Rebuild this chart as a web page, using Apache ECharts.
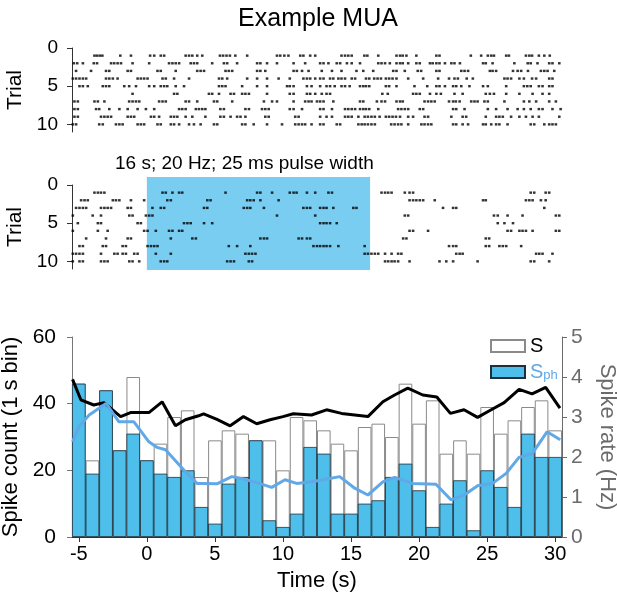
<!DOCTYPE html>
<html>
<head>
<meta charset="utf-8">
<title>Example MUA</title>
<script src="https://cdn.jsdelivr.net/npm/echarts@6/dist/echarts.min.js"></script>
<style>
  html, body { margin: 0; padding: 0; background: #fff; }
  #chart01 { width: 617px; height: 595px; }
</style>
</head>
<body>
<div id="chart01"></div>
<script>
// spike times (s) per trial, top raster (baseline)
var raster1 = [
  [-3.85,-3.66,-3.46,-3.27,-1.95,-1.17,0.24,0.54,1.02,1.27,2.85,3.1,3.34,3.7,4.07,5.37,5.6,5.85,6.1,6.5,7.37,9.56,9.8,10.1,10.4,11.27,11.5,12.0,12.37,14.3,14.56,14.8,15.05,15.98,16.2,17.0,18.34,18.6,18.8,19.07,19.8,21.27,21.5,23.8,24.56,25.05,25.3,25.5,26.4,26.6,27.85,28.1,28.3,28.8,29.2,29.6],
  [-5.37,-5.12,-4.7,-3.9,-3.66,-2.63,-2.4,-2.15,-1.9,-1.05,0.17,1.63,1.88,2.12,2.37,3.22,3.46,3.7,4.8,5.66,5.9,6.63,8.1,8.34,8.83,9.56,10.78,11.63,12.73,12.98,13.34,13.95,14.2,14.7,15.05,15.66,17.0,17.24,17.5,17.85,18.34,18.6,18.8,19.2,19.8,20.05,20.8,21.0,21.27,21.5,21.9,22.37,22.6,23.0,24.7,24.9,25.4,27.0,27.98,28.2,28.7,29.56,29.8,30.3],
  [-5.2,-4.1,-3.0,-2.76,-1.41,-1.17,0.78,1.02,2.12,3.7,3.95,4.2,5.78,6.02,6.27,8.1,8.34,8.7,10.78,11.02,11.4,11.88,12.85,13.6,14.3,15.4,15.9,16.63,18.1,18.34,18.95,19.9,20.15,21.27,21.5,23.1,23.34,23.6,25.2,25.4,25.66,26.9,27.24,27.5,28.0,28.95,29.2,29.44,29.93],
  [-5.44,-5.2,-4.95,-4.7,-4.46,-3.0,-2.76,-2.5,-2.15,-0.68,-0.44,-0.2,0.05,1.15,1.39,2.0,3.1,5.3,5.54,5.9,7.37,8.1,8.83,9.68,10.5,11.5,11.76,12.0,12.37,12.73,12.98,13.46,13.7,14.07,14.3,14.56,15.05,15.3,16.1,16.34,16.7,16.95,17.2,17.56,17.8,18.05,18.34,19.2,20.3,21.4,22.2,22.6,22.85,23.5,23.95,26.27,26.5,26.76,27.37,27.7,28.3,28.6,29.56,29.8],
  [-4.95,-4.7,-4.34,-3.24,-3.0,-2.76,-1.66,-1.3,-0.8,0.17,0.54,1.02,1.27,1.5,2.12,2.73,5.3,5.54,5.78,7.0,8.1,8.83,10.3,10.5,10.78,11.76,12.1,12.73,13.2,13.46,13.8,14.3,14.56,14.9,15.66,15.9,16.1,16.34,17.56,17.8,18.34,19.66,20.6,21.27,21.5,21.9,22.5,22.73,23.1,23.7,24.7,25.05,26.4,27.7,27.95,28.2,28.8,29.07,29.56,29.8],
  [-1.05,2.0,2.24,4.56,4.8,5.3,6.15,6.4,7.0,7.24,7.5,8.83,10.5,10.78,11.76,12.0,12.37,12.85,13.2,13.46,17.3,17.7,19.56,19.8,20.05,20.8,21.27,21.6,22.6,23.2,24.9,25.2,25.5,26.4,27.37,28.34,29.07,29.56],
  [-5.32,-5.07,-3.85,-3.6,-3.12,-1.3,-1.05,-0.8,-0.56,0.9,1.15,1.39,2.85,3.1,3.7,4.93,5.17,6.27,8.6,9.2,9.56,10.78,11.63,11.88,12.1,12.5,12.73,12.98,13.7,15.66,15.9,16.9,17.24,17.5,18.34,18.6,18.8,20.4,20.66,20.9,21.15,22.2,22.5,22.7,22.98,23.83,24.07,24.3,24.8,25.05,26.27,27.7,28.1,28.6,29.56,30.05],
  [-5.32,-5.07,-3.73,-3.5,-2.76,-2.02,-1.41,-0.68,-0.07,0.54,2.37,2.6,2.85,3.6,3.83,4.07,4.3,5.4,5.66,7.24,7.5,8.46,8.7,8.95,10.5,10.78,11.4,12.73,12.98,13.6,14.56,14.8,15.05,15.3,15.66,15.9,16.1,16.34,17.0,18.46,18.7,18.95,19.2,20.05,20.3,22.5,22.73,23.34,25.05,25.66,26.5,27.24,27.7,28.2,28.8,29.07,29.8,30.4],
  [-5.32,-5.07,-3.37,-3.12,-2.88,-2.63,-1.41,-1.17,-0.93,0.3,0.54,0.9,1.76,2.0,2.24,2.85,3.34,4.3,5.4,5.66,6.15,6.63,6.88,7.24,8.7,8.95,10.9,11.15,12.73,13.2,13.6,14.56,14.8,15.05,15.54,16.0,16.24,16.5,16.75,17.1,17.56,17.8,18.05,18.3,18.6,19.2,19.56,20.4,20.66,22.37,23.2,23.46,24.9,25.66,25.9,26.15,26.76,27.37,27.85,28.34,28.8,30.3],
  [-5.44,-5.2,-3.5,-3.24,-2.27,-2.02,-1.78,-0.68,-0.44,-0.2,0.78,1.02,1.76,2.0,2.37,3.1,3.46,3.95,4.93,5.17,7.0,7.24,7.85,8.83,9.93,10.9,11.15,11.4,11.63,12.1,12.73,12.98,13.95,14.2,15.54,15.78,16.0,16.24,16.5,16.75,17.95,18.2,18.46,18.7,19.2,20.17,20.4,20.66,20.9,22.5,22.73,23.2,23.6,24.7,24.9,25.3,25.66,25.9,26.5,28.2,28.46,29.2,29.56,29.8,30.05]
];

// spike times (s) per trial, stimulated raster
var raster2 = [
  [-3.85,-3.6,-3.37,-3.12,1.15,1.39,1.88,2.37,2.6,5.78,8.1,8.34,9.2,10.5,10.78,11.0,11.76,12.37,13.34,13.6,17.24,17.5,17.73,17.98,18.95,19.3,19.56,28.2,28.46,29.3,29.56],
  [-4.83,-4.58,-4.34,-2.5,-2.27,-2.02,-1.17,-0.2,1.5,1.76,4.44,4.68,7.37,7.6,7.85,8.34,9.68,19.3,19.56,19.8,20.05,20.3,21.15,24.7,24.9,27.85,28.1,28.34,28.95,29.3],
  [-5.2,-4.95,-4.7,-4.46,-3.37,-3.12,-2.88,-2.63,-1.41,-1.17,0.41,1.02,1.27,4.2,4.44,7.12,7.37,7.6,8.6,11.5,11.76,12.0,12.73,12.98,13.2,13.7,15.17,15.4,21.76,22.5,22.73,29.2],
  [-5.44,-3.98,-3.37,-1.29,-1.05,-0.07,0.17,0.41,9.56,12.37,18.95,19.2,25.5,25.78,26.5,27.6,30.05,30.3],
  [-5.07,-3.6,-3.37,-0.68,-0.44,2.73,2.98,3.22,4.2,4.8,12.73,12.98,13.2,13.46,13.95,25.78,26.27,26.9],
  [-5.44,-3.6,-2.88,-0.2,0.05,0.66,1.63,1.88,2.37,2.6,19.3,19.56,20.66,26.5,26.76,27.37,27.6,27.85,28.34,30.05,30.3],
  [-4.46,-3.0,-1.41,-1.17,1.76,3.34,3.6,8.34,8.6,8.83,11.15,11.4,11.76,12.0,18.83,19.07,24.9,25.15],
  [-4.95,-4.7,-3.24,-3.0,-1.78,-1.54,0.05,0.3,0.54,0.78,6.02,6.63,7.6,12.24,12.5,12.73,12.98,13.2,13.46,14.07,16.0,22.2,22.5,22.73,24.9,25.15,25.9,26.15,26.4,27.5],
  [-5.44,-5.2,-4.95,-4.7,-3.37,-2.39,-2.15,-1.78,-1.54,-0.93,-0.68,0.66,1.76,7.24,7.49,7.73,7.98,16.0,16.24,16.5,16.75,17.0,17.5,17.98,18.46,18.7,22.73,22.98,23.2,28.6,28.83,29.07,29.8],
  [-5.44,-4.95,-4.7,-3.37,-3.12,-2.88,-1.29,-1.05,-0.56,1.02,1.27,1.5,5.9,6.15,6.4,7.49,7.73,17.5,17.73,17.98,18.2,18.46,19.3,21.5,22.0,22.5,24.3,28.2,28.46,29.56]
];

var stimWindow = [0, 16.4]; // s

// 1 s bins
var timeBins = [];
for (var t = -5; t <= 30; t++) timeBins.push(String(t));
var countS   = [46,23,44,26,48,23,28,36,38,18,29,32,31,29,29,20,36,35,32,28,26,33,34,30,46,34,41,25,29,25,39,31,35,39,41,32];
var countSph = [46,19,44,26,31,23,19,18,20,9,4,16,18,29,5,3,7,27,25,7,7,10,11,18,22,14,3,10,17,2,20,15,9,31,24,24];

// spike rate (Hz) [time, rate]
var rateS = [[-5.46,3.94],[-4.85,3.43],[-3.9,3.3],[-3.15,3.36],[-1.93,3.01],[-1.2,3.11],[0.15,3.11],[1.12,3.38],[2.1,2.78],[2.83,2.93],[3.8,3.03],[4.17,3.08],[5.15,2.94],[6.12,2.78],[7.1,3.01],[8.07,2.83],[9.05,2.93],[10.0,3.01],[10.76,3.08],[12.1,3.05],[13.2,3.18],[14.3,3.09],[16.24,3.01],[17.34,3.38],[18.2,3.55],[19.17,3.72],[20.27,3.55],[21.3,3.5],[22.3,3.09],[23.3,3.18],[24.3,2.99],[25.3,3.18],[26.25,3.36],[27.35,3.69],[28.3,3.58],[29.3,3.74],[30.35,3.22]];
var rateSph = [[-5.46,2.38],[-4.98,2.76],[-4.24,3.05],[-3.0,3.34],[-2.05,2.88],[-0.95,2.88],[0.15,2.38],[0.76,2.24],[1.37,2.18],[2.7,1.68],[3.68,1.34],[4.17,1.34],[5.15,1.33],[6.24,1.51],[7.1,1.45],[8.07,1.36],[9.17,1.24],[10.15,1.43],[11.0,1.34],[12.1,1.38],[12.95,1.43],[14.17,1.51],[15.27,1.22],[16.24,1.05],[17.34,1.38],[18.2,1.49],[19.5,1.34],[21.24,1.32],[22.34,0.93],[23.32,1.05],[24.3,1.28],[25.4,1.34],[26.4,1.59],[27.34,1.99],[28.3,2.08],[29.4,2.63],[30.37,2.43]];

function toPoints(trials) {
  var pts = [];
  trials.forEach(function (row, i) {
    row.forEach(function (s) { pts.push([s, i + 1]); });
  });
  return pts;
}

var font = "'Liberation Sans', Arial, sans-serif";
var blueFill = '#4dbfea';
var blueLine = '#60a8e8';
var grey = '#6b6b6b';

function rasterY(grid) {
  return {
    gridIndex: grid, type: 'value', min: 0, max: 11, inverse: true,
    name: 'Trial', nameLocation: 'middle', nameGap: 44, nameRotate: 90,
    nameTextStyle: { fontSize: 21, color: '#000', fontFamily: font },
    axisLine: { show: true, onZero: false, lineStyle: { color: '#333', width: 1 } },
    axisTick: { show: true, length: 5, customValues: [0, 5, 10], lineStyle: { color: '#333' } },
    axisLabel: { customValues: [0, 5, 10], fontSize: 19, color: '#000', margin: 14, fontFamily: font },
    splitLine: { show: false }
  };
}
function hiddenX(grid) {
  return { gridIndex: grid, type: 'value', min: -5.5, max: 30.5, show: false };
}
function gridAt(top, height) {
  return { left: 72, right: 55, top: top, height: height, outerBoundsMode: 'none', containLabel: false };
}

var myChart01 = echarts.init(document.getElementById('chart01'));
var option = {
  animation: false,
  backgroundColor: '#fff',
  textStyle: { fontFamily: font },
  title: [
    { text: 'Example MUA', left: 313, top: 2, textAlign: 'center',
      textStyle: { fontSize: 25, fontWeight: 'normal', color: '#000', fontFamily: font } },
    { text: '16 s; 20 Hz; 25 ms pulse width', left: 110, top: 149,
      textStyle: { fontSize: 19, fontWeight: 'normal', color: '#000', fontFamily: font } }
  ],
  legend: {
    orient: 'vertical', left: 485, top: 331, itemWidth: 34, itemHeight: 12, itemGap: 6,
    icon: 'rect', data: ['S', 'Sph'],
    formatter: function (name) {
      return name === 'Sph' ? '{b|S}{c|ph}' : '{a|S}';
    },
    textStyle: {
      lineHeight: 20,
      rich: {
        a: { fontSize: 20, lineHeight: 20, color: '#000', fontFamily: font },
        b: { fontSize: 20, lineHeight: 20, color: blueLine, fontFamily: font },
        c: { fontSize: 13, lineHeight: 20, color: blueLine, fontFamily: font, verticalAlign: 'bottom', padding: [6, 0, 0, 0] }
      }
    }
  },
  grid: [
    gridAt(48, 84),
    gridAt(177, 93),
    gridAt(185, 84),
    gridAt(337, 200)
  ],
  xAxis: [
    hiddenX(0),
    hiddenX(1),
    hiddenX(2),
    {
      gridIndex: 3, type: 'category', data: timeBins, boundaryGap: true,
      name: 'Time (s)', nameLocation: 'middle', nameGap: 33,
      nameTextStyle: { fontSize: 22, color: '#000', fontFamily: font },
      axisLine: { show: true, lineStyle: { color: '#333', width: 1 } },
      axisTick: { show: true, length: 5, alignWithLabel: true,
        interval: function (i, v) { return Number(v) % 5 === 0; }, lineStyle: { color: '#333' } },
      axisLabel: { fontSize: 20, color: '#000', margin: 7, fontFamily: font,
        interval: function (i, v) { return Number(v) % 5 === 0; } }
    },
    hiddenX(3)
  ],
  yAxis: [
    rasterY(0),
    { gridIndex: 1, type: 'value', min: 0, max: 1, show: false },
    rasterY(2),
    {
      gridIndex: 3, type: 'value', min: 0, max: 60, interval: 20,
      name: 'Spike count (1 s bin)', nameLocation: 'middle', nameGap: 41, nameRotate: 90,
      nameTextStyle: { fontSize: 22, color: '#000', fontFamily: font },
      axisLine: { show: true, onZero: false, lineStyle: { color: '#777', width: 1 } },
      axisTick: { show: true, length: 5, lineStyle: { color: '#777' } },
      axisLabel: { fontSize: 21, color: '#000', margin: 16, fontFamily: font },
      splitLine: { show: false }
    },
    {
      gridIndex: 3, type: 'value', min: 0, max: 5, interval: 1, position: 'right',
      name: 'Spike rate (Hz)', nameLocation: 'middle', nameGap: 34, nameRotate: -90,
      nameTextStyle: { fontSize: 22, color: grey, fontFamily: font },
      axisLine: { show: true, onZero: false, lineStyle: { color: grey, width: 1 } },
      axisTick: { show: true, length: 5, lineStyle: { color: grey } },
      axisLabel: { fontSize: 21, color: grey, margin: 9, fontFamily: font },
      splitLine: { show: false }
    }
  ],
  series: [
    {
      name: 'raster1', type: 'scatter', xAxisIndex: 0, yAxisIndex: 0,
      symbol: 'rect', symbolSize: [2.6, 2.4], itemStyle: { color: '#000' },
      data: toPoints(raster1)
    },
    {
      name: 'stim', type: 'custom', xAxisIndex: 1, yAxisIndex: 1, z: 1,
      encode: { x: [0, 1] },
      renderItem: function (params, api) {
        var p0 = api.coord([api.value(0), 1]);
        var p1 = api.coord([api.value(1), 0]);
        return { type: 'rect', shape: { x: p0[0], y: p0[1], width: p1[0] - p0[0], height: p1[1] - p0[1] },
          style: { fill: '#78cdf1' } };
      },
      data: [stimWindow]
    },
    {
      name: 'raster2', type: 'scatter', xAxisIndex: 2, yAxisIndex: 2, z: 3,
      symbol: 'rect', symbolSize: [2.6, 2.4], itemStyle: { color: '#000' },
      data: toPoints(raster2)
    },
    {
      name: 'S', type: 'bar', xAxisIndex: 3, yAxisIndex: 3, barWidth: '100%', barGap: '-100%',
      itemStyle: { color: '#fff', borderColor: '#8a8a8a', borderWidth: 1 },
      data: countS
    },
    {
      name: 'Sph', type: 'bar', xAxisIndex: 3, yAxisIndex: 3, barWidth: '100%', barGap: '-100%',
      itemStyle: { color: blueFill, borderColor: '#1d2f3a', borderWidth: 0.8 },
      data: countSph
    },
    {
      name: 'rateS', type: 'line', xAxisIndex: 4, yAxisIndex: 4, z: 5,
      symbol: 'none', lineStyle: { color: '#000', width: 3 },
      data: rateS
    },
    {
      name: 'rateSph', type: 'line', xAxisIndex: 4, yAxisIndex: 4, z: 5,
      symbol: 'none', lineStyle: { color: blueLine, width: 3 },
      data: rateSph
    }
  ]
};
myChart01.setOption(option);
</script>
</body>
</html>
